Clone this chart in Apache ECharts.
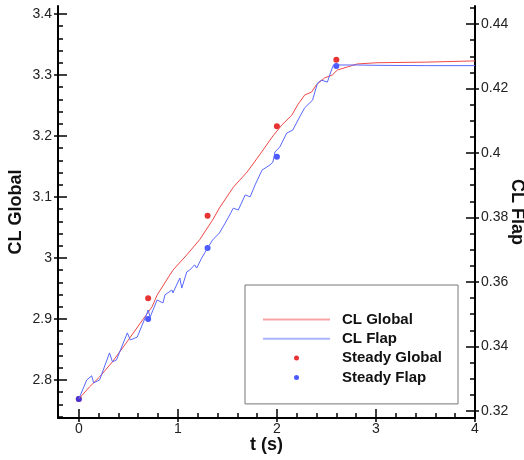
<!DOCTYPE html>
<html>
<head>
<meta charset="utf-8">
<script src="https://cdn.jsdelivr.net/npm/echarts@6/dist/echarts.min.js"></script>
<style>
	html,body{margin:0;padding:0;background:#fff;}
	#cl_chart{width:524px;height:460px;}
</style>
</head>
<body>
<div id="cl_chart"></div>
<script>
	// unsteady CL, global (left axis)
	var tGlobal = [0,0.11,0.21,0.34,0.48,0.62,0.74,0.79,0.95,1.09,1.22,1.35,1.42,1.56,1.70,1.83,1.96,2.05,2.15,2.21,2.28,2.35,2.40,2.48,2.56,2.61,2.71,2.81,3.01,3.5,4.0];
	var clGlobal = [2.769,2.789,2.805,2.830,2.861,2.893,2.920,2.939,2.980,3.005,3.030,3.062,3.082,3.116,3.141,3.170,3.200,3.218,3.234,3.251,3.267,3.272,3.284,3.295,3.300,3.308,3.313,3.318,3.320,3.321,3.323];
	// unsteady CL, flap (right axis)
	var tFlap = [0,0.08,0.13,0.15,0.21,0.31,0.34,0.38,0.49,0.52,0.59,0.69,0.70,0.72,0.79,0.85,0.87,0.94,0.95,1.02,1.04,1.09,1.12,1.17,1.19,1.24,1.30,1.35,1.42,1.49,1.56,1.61,1.68,1.73,1.78,1.85,1.93,1.96,1.98,2.03,2.10,2.16,2.23,2.28,2.36,2.41,2.45,2.51,2.54,2.57,2.59,2.62,2.81,3.01,3.5,4.0];
	var clFlap = [0.3237,0.3296,0.3309,0.3287,0.3296,0.3380,0.3352,0.3358,0.3442,0.3420,0.3429,0.3504,0.3513,0.3491,0.3544,0.3535,0.3560,0.3575,0.3566,0.3612,0.3581,0.3631,0.3637,0.3653,0.3643,0.3674,0.3705,0.3730,0.3752,0.3789,0.3829,0.3823,0.3870,0.3864,0.3901,0.3947,0.3963,0.3972,0.4003,0.4019,0.4062,0.4071,0.4112,0.4140,0.4164,0.4217,0.4226,0.4220,0.4248,0.4273,0.4279,0.4273,0.4273,0.4272,0.4271,0.4271];
	// steady points
	var tSteady = [0,0.7,1.3,2.0,2.6];
	var steadyGlobal = [2.769,2.934,3.069,3.216,3.325];
	var steadyFlap = [0.3237,0.3485,0.3705,0.3988,0.4270];
	// ticks
	var xMajor = [0,1,2,3,4];
	var xMinor = [0.2,0.4,0.6,0.8,1.2,1.4,1.6,1.8,2.2,2.4,2.6,2.8,3.2,3.4,3.6,3.8];
	var yLeftMajor = [2.8,2.9,3,3.1,3.2,3.3,3.4];
	var yLeftMinor = [2.74,2.76,2.78,2.82,2.84,2.86,2.88,2.92,2.94,2.96,2.98,3.02,3.04,3.06,3.08,3.12,3.14,3.16,3.18,3.22,3.24,3.26,3.28,3.32,3.34,3.36,3.38,3.42];
	var yRightMajor = [0.32,0.34,0.36,0.38,0.4,0.42,0.44];
	var yRightMinor = [0.325,0.33,0.335,0.345,0.35,0.355,0.365,0.37,0.375,0.385,0.39,0.395,0.405,0.41,0.415,0.425,0.43,0.435,0.445];

	function pairs(xs, ys){
		var out = [];
		for(var i=0;i<ys.length;i++){
			out.push([xs[i], ys[i]]);
		}
		return out;
	}

	var font = '"Liberation Sans", Arial, Helvetica, sans-serif';
	var xMin = -0.21, xMax = 4;
	var yLMin = 2.7377, yLMax = 3.413;
	var yRMin = 0.3178, yRMax = 0.4456;

	function tickAxis(pos, min, max, values, inside, len){
		return {
			type:'value', position:pos, min:min, max:max,
			axisLine:{show:false, onZero:false},
			axisLabel:{show:false},
			splitLine:{show:false},
			axisTick:{show:true, inside:inside, length:len, customValues:values, lineStyle:{color:'#000', width:1.5}}
		};
	}

	var chart = echarts.init(document.getElementById('cl_chart'));
	var option = {
		animation:false,
		backgroundColor:'#fff',
		textStyle:{fontFamily:font},
		grid:{left:58, right:49, top:6, bottom:42, outerBoundsMode:'none'},
		legend:{
			orient:'vertical',
			left:245, top:285,
			padding:[27,16,19,17],
			backgroundColor:'#fff',
			borderColor:'#777',
			borderWidth:1,
			borderRadius:0,
			itemWidth:67,
			itemHeight:5,
			itemGap:4.3,
			lineStyle:{opacity:0.5},
			textStyle:{fontFamily:font, fontSize:15, fontWeight:'bold', color:'#111', padding:[0,0,0,7]},
			data:[
				{name:'CL Global', itemStyle:{opacity:0}},
				{name:'CL Flap', itemStyle:{opacity:0}},
				{name:'Steady Global'},
				{name:'Steady Flap'}
			]
		},
		xAxis:[{
			type:'value', position:'bottom', min:xMin, max:xMax,
			name:'t (s)', nameLocation:'middle', nameGap:18, nameMoveOverlap:false,
			nameTextStyle:{fontFamily:font, fontSize:18, fontWeight:'bold', color:'#111'},
			axisLine:{onZero:false, lineStyle:{color:'#000', width:2}},
			axisTick:{inside:true, length:9, customValues:xMajor, lineStyle:{color:'#000', width:1.5}},
			axisLabel:{customValues:xMajor, margin:4, fontFamily:font, fontSize:14, color:'#222'},
			splitLine:{show:false}
		},
			tickAxis('bottom', xMin, xMax, xMinor, true, 5),
			tickAxis('bottom', xMin, xMax, xMajor, false, 4)
		],
		yAxis:[{
			type:'value', position:'left', min:yLMin, max:yLMax,
			name:'CL Global', nameLocation:'middle', nameGap:33, nameRotate:90, nameMoveOverlap:false,
			nameTextStyle:{fontFamily:font, fontSize:18, fontWeight:'bold', color:'#111'},
			axisLine:{onZero:false, lineStyle:{color:'#000', width:2}},
			axisTick:{inside:true, length:9, customValues:yLeftMajor, lineStyle:{color:'#000', width:1.5}},
			axisLabel:{customValues:yLeftMajor, margin:6, fontFamily:font, fontSize:14, color:'#222'},
			splitLine:{show:false}
		},{
			type:'value', position:'right', min:yRMin, max:yRMax,
			name:'CL Flap', nameLocation:'middle', nameGap:33, nameRotate:-90, nameMoveOverlap:false,
			nameTextStyle:{fontFamily:font, fontSize:18, fontWeight:'bold', color:'#111'},
			axisLine:{onZero:false, lineStyle:{color:'#000', width:2}},
			axisTick:{inside:true, length:9, customValues:yRightMajor, lineStyle:{color:'#000', width:1.5}},
			axisLabel:{customValues:yRightMajor, margin:6, fontFamily:font, fontSize:14, color:'#222'},
			splitLine:{show:false}
		},
			tickAxis('left', yLMin, yLMax, yLeftMinor, true, 5),
			tickAxis('right', yRMin, yRMax, yRightMinor, true, 5),
			tickAxis('left', yLMin, yLMax, yLeftMajor, false, 4),
			tickAxis('right', yRMin, yRMax, yRightMajor, false, 4)
		],
		series:[{
			name:'CL Global', type:'line', xAxisIndex:0, yAxisIndex:0,
			symbol:'none', showSymbol:false,
			lineStyle:{color:'#f04848', width:1},
			itemStyle:{color:'#f04848'},
			data:pairs(tGlobal, clGlobal)
		},{
			name:'CL Flap', type:'line', xAxisIndex:0, yAxisIndex:1,
			symbol:'none', showSymbol:false,
			lineStyle:{color:'#5868ff', width:1},
			itemStyle:{color:'#5868ff'},
			data:pairs(tFlap, clFlap)
		},{
			name:'Steady Global', type:'scatter', xAxisIndex:0, yAxisIndex:0,
			symbol:'circle', symbolSize:6,
			itemStyle:{color:'#e00000'},
			data:pairs(tSteady, steadyGlobal)
		},{
			name:'Steady Flap', type:'scatter', xAxisIndex:0, yAxisIndex:1,
			symbol:'circle', symbolSize:6,
			itemStyle:{color:'#1f2fff'},
			data:pairs(tSteady, steadyFlap)
		}]
	};
	chart.setOption(option);
</script>
</body>
</html>
